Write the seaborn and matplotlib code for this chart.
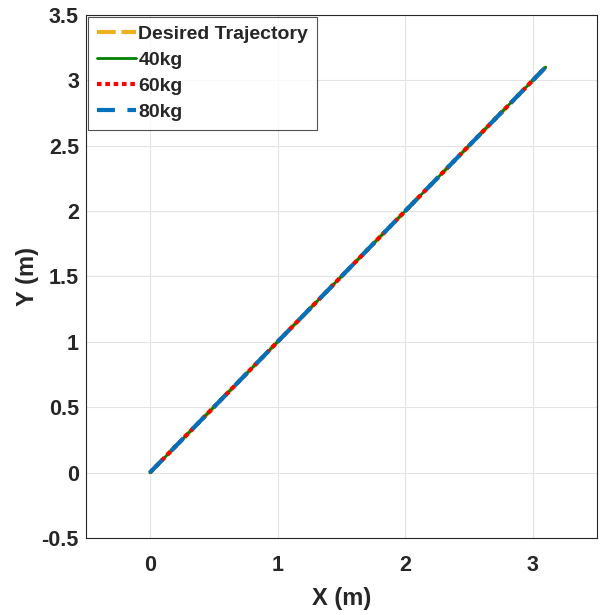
import numpy as np
import pandas as pd
import matplotlib
matplotlib.use("Agg")
import matplotlib.pyplot as plt
import seaborn as sns

# Data
x_desired = [0.0, 0.5, 1.0, 1.5, 2.0, 2.5, 3.0, 3.1]
y_desired = [0.0, 0.5, 1.0, 1.5, 2.0, 2.5, 3.0, 3.1]
x_40 = [0.0, 0.5, 1.0, 1.5, 2.0, 2.5, 3.0, 3.1]
y_40 = [0.0, 0.5, 1.0, 1.5, 2.0, 2.5, 3.0, 3.1]
x_60 = [0.0, 0.5, 1.0, 1.5, 2.0, 2.5, 3.0, 3.1]
y_60 = [0.0, 0.5, 1.0, 1.5, 2.0, 2.5, 3.0, 3.1]
x_80 = [0.0, 0.5, 1.0, 1.5, 2.0, 2.5, 3.0, 3.1]
y_80 = [0.0, 0.5, 1.0, 1.5, 2.0, 2.5, 3.0, 3.1]
labels = ["Desired Trajectory", "40kg", "60kg", "80kg"]
x_ticks = [0, 1, 2, 3]
y_ticks = [-0.5, 0, 0.5, 1, 1.5, 2, 2.5, 3, 3.5]

sns.set_style("white")
plt.rcParams['font.family'] = ['Liberation Sans', 'DejaVu Sans']
plt.rcParams['font.weight'] = 'bold'

fig = plt.figure(figsize=(6.01, 6.15), dpi=100)
ax = fig.add_axes([0.143, 0.125, 0.850, 0.851])

styles = [
    dict(color="#EDB120", linestyle=(0, (4.5, 1.4)), linewidth=3.0),
    dict(color="#008000", linestyle="-", linewidth=2.0),
    dict(color="#FF0000", linestyle=(0, (1.1, 0.9)), linewidth=3.0),
    dict(color="#0072BD", linestyle=(0, (4.3, 3.0)), linewidth=3.0),
]
series = [(x_desired, y_desired), (x_40, y_40), (x_60, y_60), (x_80, y_80)]
for (xs, ys), lab, st in zip(series, labels, styles):
    df = pd.DataFrame({"x": xs, "y": ys})
    sns.lineplot(data=df, x="x", y="y", ax=ax, sort=False, label=lab, **st)

ax.set_xlim(-0.5, 3.5)
ax.set_ylim(-0.5, 3.5)
ax.set_xticks(x_ticks)
ax.set_yticks(y_ticks)
ax.set_xticklabels([f"{t:g}" for t in x_ticks], fontsize=15.5, fontweight='bold', color="#262626")
ax.set_yticklabels([f"{t:g}" for t in y_ticks], fontsize=15.5, fontweight='bold', color="#262626")
ax.grid(True, color="#e3e3e3", linewidth=0.8)
ax.set_axisbelow(True)
for s in ax.spines.values():
    s.set_color("#262626")
    s.set_linewidth(0.8)
ax.tick_params(axis='both', direction='in', length=4, width=0.8, color="#262626")
ax.tick_params(axis='x', pad=12)
ax.tick_params(axis='y', pad=5)
ax.set_xlabel("X (m)", fontsize=17, fontweight='bold', color="#262626", labelpad=8)
ax.set_ylabel("Y (m)", fontsize=17, fontweight='bold', color="#262626", labelpad=2)

leg = ax.legend(loc="upper left", prop={'weight': 'bold', 'size': 14}, frameon=True,
                fancybox=False, borderaxespad=0.1, handlelength=2.0, handletextpad=0.15,
                labelspacing=0.43, borderpad=0.45)
leg.get_frame().set_edgecolor("#262626")
leg.get_frame().set_linewidth(0.8)

fig.savefig("out.png", dpi=100)
